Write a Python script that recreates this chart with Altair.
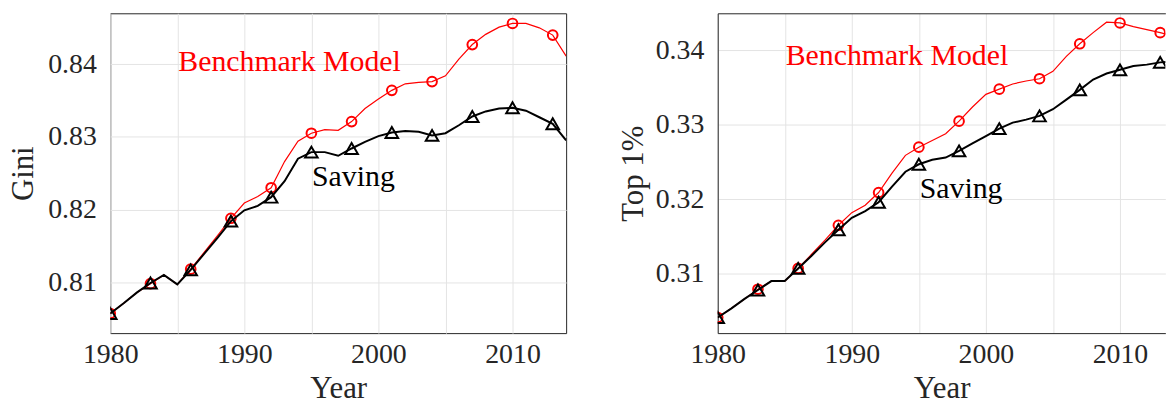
import altair as alt
import pandas as pd

# Annual series, 1980-2014
years = list(range(1980, 2015))

gini_benchmark = [
    0.8057, 0.8071, 0.8086, 0.8098, 0.8110, 0.8097, 0.8118, 0.8141, 0.8164, 0.8188,
    0.8209, 0.8218, 0.8230, 0.8266, 0.8294, 0.8305, 0.8310, 0.8309, 0.8321, 0.8339,
    0.8352, 0.8364, 0.8373, 0.8375, 0.8376, 0.8384, 0.8407, 0.8427, 0.8441, 0.8451,
    0.8456, 0.8456, 0.8450, 0.8440, 0.8411,
]
gini_saving = [
    0.8057, 0.8071, 0.8086, 0.8099, 0.8110, 0.8097, 0.8117, 0.8139, 0.8161, 0.8184,
    0.8199, 0.8205, 0.8217, 0.8239, 0.8270, 0.8279, 0.8279, 0.8274, 0.8284, 0.8293,
    0.8301, 0.8306, 0.8308, 0.8307, 0.8302, 0.8305, 0.8316, 0.8328, 0.8335, 0.8339,
    0.8340, 0.8336, 0.8327, 0.8318, 0.8295,
]
top1_benchmark = [
    0.3041, 0.3053, 0.3066, 0.3079, 0.3090, 0.3090, 0.3107, 0.3126, 0.3145, 0.3165,
    0.3182, 0.3192, 0.3209, 0.3235, 0.3259, 0.3270, 0.3279, 0.3288, 0.3305, 0.3324,
    0.3341, 0.3348, 0.3355, 0.3359, 0.3362, 0.3372, 0.3392, 0.3409, 0.3424, 0.3438,
    0.3437, 0.3432, 0.3428, 0.3424, 0.3419,
]
top1_saving = [
    0.3041, 0.3053, 0.3066, 0.3078, 0.3090, 0.3090, 0.3107, 0.3124, 0.3142, 0.3159,
    0.3175, 0.3184, 0.3196, 0.3217, 0.3237, 0.3247, 0.3253, 0.3256, 0.3265, 0.3275,
    0.3285, 0.3295, 0.3303, 0.3307, 0.3312, 0.3321, 0.3334, 0.3347, 0.3361, 0.3369,
    0.3374, 0.3379, 0.3381, 0.3384, 0.3385,
]

series_names = ["Benchmark Model", "Saving"]

SERIF = "Liberation Serif"
AXIS_GREY = "#262626"
GRID_GREY = "#e4e4e4"
RED = "#ff0000"
BLACK = "#000000"

PX_PER_YEAR = 13.5
PLOT_H = 322


def panel(bench, saving, y_title, y_domain, y_ticks, x_max,
          bench_anchor, saving_anchor, boxed, y_title_pad):
    df = pd.DataFrame({"year": years, series_names[0]: bench, series_names[1]: saving})
    long = df.melt("year", var_name="series", value_name="value")

    x_scale = alt.Scale(domain=[1980, x_max], nice=False, zero=False)
    y_scale = alt.Scale(domain=y_domain, nice=False, zero=False)

    x_axis = alt.Axis(
        values=list(range(1980, 2015, 5)),
        labelExpr="datum.value % 10 == 0 ? datum.label : ''",
        format="d", title="Year", grid=True,
        ticks=False, tickSize=0, labelPadding=8, titlePadding=5,
        domain=not boxed, domainColor=AXIS_GREY, labelFlush=False,
    )
    y_axis = alt.Axis(
        values=y_ticks, format=".2f", title=y_title, grid=True,
        ticks=False, tickSize=0, labelPadding=14, titlePadding=y_title_pad,
        domain=not boxed, domainColor=AXIS_GREY,
    )

    x_main = alt.X("year:Q", scale=x_scale, axis=x_axis)
    x_plain = alt.X("year:Q", scale=x_scale, axis=None)
    y_enc = alt.Y("value:Q", scale=y_scale, axis=y_axis)

    base = alt.Chart(long)
    every_third = "(datum.year - 1980) % 3 == 0"

    red_line = base.mark_line(color=RED, strokeWidth=1.2, clip=True).encode(
        x=x_main, y=y_enc
    ).transform_filter(alt.datum.series == series_names[0])
    red_pts = base.mark_point(shape="circle", filled=False, size=95, strokeWidth=2,
                              color=RED, opacity=1, clip=True).encode(
        x=x_plain, y=y_enc
    ).transform_filter(alt.datum.series == series_names[0]).transform_filter(every_third)
    black_line = base.mark_line(color=BLACK, strokeWidth=2, clip=True).encode(
        x=x_plain, y=y_enc
    ).transform_filter(alt.datum.series == series_names[1])
    black_pts = base.mark_point(shape="triangle-up", filled=False, size=160, strokeWidth=2,
                                color=BLACK, opacity=1, clip=True).encode(
        x=x_plain, y=y_enc
    ).transform_filter(alt.datum.series == series_names[1]).transform_filter(every_third)

    labels = pd.DataFrame({
        "year": [bench_anchor[0], saving_anchor[0]],
        "value": [bench_anchor[1], saving_anchor[1]],
        "series": series_names,
    })
    text = alt.Chart(labels).mark_text(
        font=SERIF, fontSize=30, align="left", baseline="alphabetic"
    ).encode(
        x=x_plain, y=y_enc, text="series:N",
        color=alt.Color("series:N", scale=alt.Scale(domain=series_names, range=[RED, BLACK]),
                        legend=None),
    )

    layers = [red_line, red_pts, black_line, black_pts, text]
    if not boxed:
        # top frame line where the box is left open on the right
        top_axis = alt.Axis(orient="top", labels=False, ticks=False, grid=False,
                            domain=True, domainColor=AXIS_GREY, title="")
        top = base.mark_line(opacity=0).encode(
            x=alt.X("year:Q", scale=x_scale, axis=top_axis), y=y_enc
        ).transform_filter(alt.datum.series == series_names[0])
        layers.append(top)

    width = (x_max - 1980) * PX_PER_YEAR
    view = (alt.ViewBackground(stroke=AXIS_GREY, strokeWidth=1) if boxed
            else alt.ViewBackground(strokeOpacity=0))
    return alt.layer(*layers).resolve_axis(x="independent").properties(
        width=width, height=PLOT_H, view=view
    )


left = panel(gini_benchmark, gini_saving, "Gini", [0.8030, 0.8470],
             [0.81, 0.82, 0.83, 0.84], 2014,
             (1985.08, 0.8391), (1995.05, 0.8232), boxed=True, y_title_pad=8)
right = panel(top1_benchmark, top1_saving, "Top 1%", [0.3020, 0.3450],
              [0.31, 0.32, 0.33, 0.34], 1980 + 450.7 / PX_PER_YEAR,
              (1985.07, 0.3381), (1995.07, 0.3202), boxed=False, y_title_pad=6)

chart = alt.hconcat(left, right, spacing=152.6, bounds="flush").properties(
    padding={"left": 7, "top": 11, "right": 0, "bottom": 0},
    background="white",
).configure_axis(
    labelFont=SERIF, titleFont=SERIF, labelFontSize=28, titleFontSize=31,
    labelColor=AXIS_GREY, titleColor=AXIS_GREY, titleFontWeight="normal",
    gridColor=GRID_GREY, gridOpacity=1, gridWidth=1,
)

chart.save("out.html", embed_options={"renderer": "svg", "actions": False})
